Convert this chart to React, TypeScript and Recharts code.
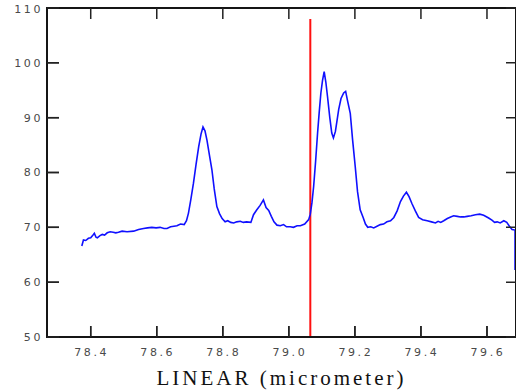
import { Line, LineChart, ReferenceArea, ReferenceLine, XAxis, YAxis, Label } from "recharts";

const xs = [
  78.373, 78.378, 78.385, 78.393, 78.4, 78.407, 78.411, 78.416, 78.42, 78.428,
  78.435, 78.442, 78.45, 78.459, 78.468, 78.476, 78.484, 78.495, 78.51, 78.53,
  78.545, 78.56, 78.572, 78.585, 78.598, 78.61, 78.622, 78.631, 78.642, 78.652,
  78.661, 78.672, 78.683, 78.69, 78.696, 78.703, 78.711, 78.719, 78.727, 78.734,
  78.74, 78.746, 78.752, 78.76, 78.767, 78.774, 78.782, 78.79, 78.798, 78.807,
  78.815, 78.824, 78.833, 78.842, 78.853, 78.862, 78.872, 78.885, 78.893, 78.903,
  78.913, 78.923, 78.931, 78.939, 78.947, 78.955, 78.964, 78.974, 78.984, 78.993,
  79.004, 79.014, 79.025, 79.035, 79.048, 79.06, 79.065, 79.07, 79.075, 79.081,
  79.087, 79.092, 79.097, 79.102, 79.107, 79.112, 79.117, 79.124, 79.13, 79.135,
  79.141, 79.146, 79.151, 79.158, 79.166, 79.172, 79.178, 79.186, 79.193, 79.201,
  79.208, 79.216, 79.225, 79.232, 79.239, 79.248, 79.257, 79.267, 79.277, 79.287,
  79.297, 79.308, 79.318, 79.328, 79.338, 79.347, 79.356, 79.364, 79.373, 79.383,
  79.393, 79.405, 79.419, 79.432, 79.444, 79.452, 79.46, 79.469, 79.48, 79.49,
  79.499, 79.51, 79.52, 79.53, 79.54, 79.552, 79.565, 79.578, 79.59, 79.605,
  79.615, 79.623, 79.631, 79.64, 79.651, 79.66, 79.668, 79.676, 79.685, 79.685,
];
const intensity = [
  66.6, 67.7, 67.6, 68.0, 68.1, 68.6, 68.9, 68.2, 68.1, 68.5,
  68.7, 68.6, 69.0, 69.2, 69.1, 69.0, 69.1, 69.3, 69.2, 69.3,
  69.6, 69.8, 69.9, 70.0, 69.9, 70.0, 69.8, 69.8, 70.1, 70.2,
  70.3, 70.6, 70.5, 71.2, 72.6, 75.0, 78.0, 81.5, 84.7, 87.0,
  88.3, 87.6, 85.9, 83.0, 80.5, 77.0, 73.8, 72.5, 71.6, 71.0,
  71.2, 70.9, 70.8, 71.0, 71.1, 70.9, 71.0, 70.9, 72.3, 73.2,
  74.0, 75.0, 73.6, 73.1, 72.0, 71.0, 70.4, 70.3, 70.5, 70.1,
  70.1, 70.0, 70.3, 70.3, 70.6, 71.4, 72.4, 74.5, 77.4, 82.0,
  87.2, 91.0, 94.5, 96.8, 98.4, 96.5, 93.9, 90.0, 87.2, 86.3,
  87.5, 89.5, 91.5, 93.5, 94.5, 94.8, 93.0, 90.8, 86.0, 81.1,
  76.5, 73.2, 71.8, 70.6, 70.0, 70.1, 69.9, 70.2, 70.5, 70.6,
  71.0, 71.2, 71.8, 73.0, 74.7, 75.7, 76.4, 75.6, 74.3, 73.0,
  71.8, 71.4, 71.2, 71.0, 70.8, 71.1, 70.9, 71.2, 71.6, 71.9,
  72.1, 72.0, 71.9, 71.9, 72.0, 72.1, 72.3, 72.4, 72.2, 71.7,
  71.3, 70.9, 71.0, 70.8, 71.2, 70.9, 70.2, 69.6, 69.5, 62.2,
];
const xTicks = [78.4, 78.6, 78.8, 79.0, 79.2, 79.4, 79.6];
const yTicks = [50, 60, 70, 80, 90, 100, 110];
const markerX = 79.065;

const data = xs.map((x, i) => ({ x, y: intensity[i] }));

const X_MIN = 78.2676;
const X_MAX = 79.6879;
const Y_MIN = 50;
const Y_MAX = 110;

const W = 516;
const H = 390;
const PLOT_LEFT = 47;
const PLOT_RIGHT = 516;
const PLOT_TOP = 8;
const PLOT_BOTTOM = 337;

// same linear mapping as the chart's axes, for the boxed frame + inward ticks
const sx = (v: number) => PLOT_LEFT + ((v - X_MIN) / (X_MAX - X_MIN)) * (PLOT_RIGHT - PLOT_LEFT);
const sy = (v: number) => PLOT_BOTTOM - ((v - Y_MIN) / (Y_MAX - Y_MIN)) * (PLOT_BOTTOM - PLOT_TOP);
const xPerPx = (X_MAX - X_MIN) / (PLOT_RIGHT - PLOT_LEFT);
const yPerPx = (Y_MAX - Y_MIN) / (PLOT_BOTTOM - PLOT_TOP);

const tickFont = { fontFamily: "DejaVu Sans", fontSize: 11, letterSpacing: 2.6, fill: "#4a4a4a" };

function renderYTick(props: any) {
  const { y, payload } = props;
  return (
    <text key={`yt-${payload.value}`} x={43} y={y} dy="0.35em" textAnchor="end" {...tickFont}>
      {payload.value}
    </text>
  );
}

function renderXTick(props: any) {
  const { x, payload } = props;
  return (
    <text key={`xt-${payload.value}`} x={x + 1} y={352} dy="0.35em" textAnchor="middle" {...tickFont}>
      {payload.value.toFixed(1)}
    </text>
  );
}

function Frame() {
  return (
    <svg
      width={W}
      height={H}
      style={{ position: "absolute", left: 0, top: 0, zIndex: 10, pointerEvents: "none" }}
    >
      <path
        d={`M${PLOT_LEFT},${PLOT_TOP}H${PLOT_RIGHT}V${PLOT_BOTTOM}H${PLOT_LEFT}Z`}
        stroke="#151515"
        strokeWidth={2}
        fill="none"
      />
      <path
        d={[
          ...yTicks.map((t) => `M${PLOT_LEFT},${sy(t)}h12M${PLOT_RIGHT},${sy(t)}h-10`),
          ...xTicks.map((t) => `M${sx(t)},${PLOT_BOTTOM}v-11M${sx(t)},${PLOT_TOP}v11`),
        ].join("")}
        stroke="#222"
        strokeWidth={1.5}
        fill="none"
      />
    </svg>
  );
}

export default function App() {
  return (
    <div style={{ position: "absolute", left: 0, top: 0, width: W, height: H, background: "#fff" }}>
      <LineChart
        width={W}
        height={H}
        data={data}
        margin={{ top: PLOT_TOP, right: 0, bottom: 0, left: 0 }}
      >
        <XAxis
          dataKey="x"
          type="number"
          domain={[X_MIN, X_MAX]}
          ticks={xTicks}
          tick={renderXTick}
          tickLine={false}
          height={H - PLOT_BOTTOM}
          axisLine={{ stroke: "#151515", strokeWidth: 2 }}
        >
          <Label
            value="LINEAR (micrometer)"
            position="insideBottom"
            offset={5}
            style={{ fontFamily: "Liberation Serif", fontSize: 21, letterSpacing: 3, fill: "#111" }}
          />
        </XAxis>
        <YAxis
          type="number"
          domain={[Y_MIN, Y_MAX]}
          ticks={yTicks}
          width={PLOT_LEFT}
          tick={renderYTick}
          tickLine={false}
          axisLine={{ stroke: "#151515", strokeWidth: 2 }}
        />
        <ReferenceArea
          x1={X_MIN}
          x2={X_MAX}
          y1={Y_MIN}
          y2={Y_MAX}
          fill="none"
          fillOpacity={0}
          stroke="#151515"
          strokeWidth={2}
          strokeOpacity={1}
        />
        {yTicks.map((t) => (
          <ReferenceLine
            key={`yl-${t}`}
            segment={[
              { x: X_MIN, y: t },
              { x: X_MIN + 12 * xPerPx, y: t },
            ]}
            stroke="#222"
            strokeWidth={1.5}
          />
        ))}
        {xTicks.map((t) => (
          <ReferenceLine
            key={`xb-${t}`}
            segment={[
              { x: t, y: Y_MIN },
              { x: t, y: Y_MIN + 11 * yPerPx },
            ]}
            stroke="#222"
            strokeWidth={1.5}
          />
        ))}
        <ReferenceLine
          segment={[
            { x: markerX, y: Y_MIN },
            { x: markerX, y: 108 },
          ]}
          stroke="#ff1010"
          strokeWidth={2}
        />
        <Line
          dataKey="y"
          stroke="#1010ff"
          strokeWidth={1.6}
          dot={false}
          isAnimationActive={false}
          type="linear"
        />
      </LineChart>
      <Frame />
    </div>
  );
}
